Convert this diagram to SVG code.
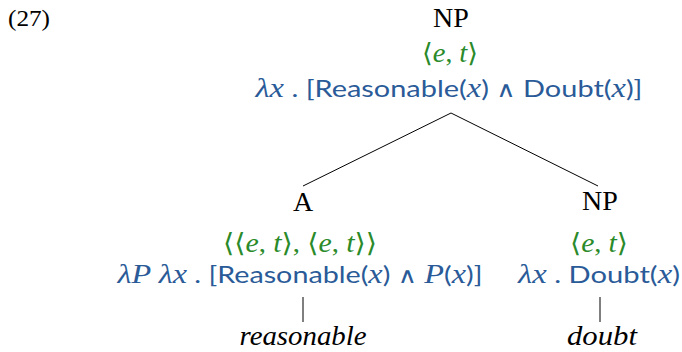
<svg xmlns="http://www.w3.org/2000/svg" width="682" height="352" viewBox="0 0 682 352">
<style>
.lab{font-family:"Liberation Serif","DejaVu Serif",serif;font-size:28px;fill:#000;text-anchor:middle}
.ty{font-family:"Liberation Serif","DejaVu Serif",serif;font-size:26px;fill:#2a8a2a;text-anchor:middle}
.sem{font-family:Lato,"Open Sans",sans-serif;font-size:24px;fill:#2a5b98;text-anchor:middle}
.it{font-family:"Liberation Serif","DejaVu Serif",serif;font-style:italic;font-size:27px}
.op{font-family:"DejaVu Sans",sans-serif;font-size:22px}
.wd{font-family:"Liberation Serif","DejaVu Serif",serif;font-style:italic;font-size:28px;fill:#000;text-anchor:middle}
.edge{stroke:#000;stroke-width:1;fill:none}
</style>
<rect width="682" height="352" fill="#fff"/>
<text x="8" y="26" font-family="Liberation Serif, DejaVu Serif, serif" font-size="24" fill="#000" textLength="42" lengthAdjust="spacingAndGlyphs">(27)</text>
<g id="connectors">
<line class="edge" x1="451" y1="113" x2="303" y2="186"/>
<line class="edge" x1="451" y1="113" x2="598" y2="186"/>
<line class="edge" x1="303" y1="297" x2="303" y2="322"/>
<line class="edge" x1="600" y1="297" x2="600" y2="322"/>
</g>
<g id="np-top">
<text class="lab" x="451" y="27">NP</text>
<text class="ty" x="450" y="62" textLength="56" lengthAdjust="spacingAndGlyphs">⟨<tspan class="it">e</tspan>, <tspan class="it">t</tspan>⟩</text>
<text class="sem" x="449" y="97" textLength="387" lengthAdjust="spacingAndGlyphs"><tspan class="it">λx</tspan> . [Reasonable(<tspan class="it">x</tspan>) <tspan class="op">∧</tspan> Doubt(<tspan class="it">x</tspan>)]</text>
</g>
<g id="a-node">
<text class="lab" x="303" y="211">A</text>
<text class="ty" x="300" y="252" textLength="154" lengthAdjust="spacingAndGlyphs">⟨⟨<tspan class="it">e</tspan>, <tspan class="it">t</tspan>⟩, ⟨<tspan class="it">e</tspan>, <tspan class="it">t</tspan>⟩⟩</text>
<text class="sem" x="300" y="283" textLength="365" lengthAdjust="spacingAndGlyphs"><tspan class="it">λP λx</tspan> . [Reasonable(<tspan class="it">x</tspan>) <tspan class="op">∧</tspan> <tspan class="it">P</tspan>(<tspan class="it">x</tspan>)]</text>
</g>
<g id="np-right">
<text class="lab" x="600" y="210">NP</text>
<text class="ty" x="599" y="252" textLength="58" lengthAdjust="spacingAndGlyphs">⟨<tspan class="it">e</tspan>, <tspan class="it">t</tspan>⟩</text>
<text class="sem" x="599" y="283" textLength="162" lengthAdjust="spacingAndGlyphs"><tspan class="it">λx</tspan> . Doubt(<tspan class="it">x</tspan>)</text>
</g>
<g id="leaf-reasonable">
<text class="wd" x="303" y="345" textLength="127" lengthAdjust="spacingAndGlyphs">reasonable</text>
</g>
<g id="leaf-doubt">
<text class="wd" x="602" y="345" textLength="70" lengthAdjust="spacingAndGlyphs">doubt</text>
</g>
</svg>
